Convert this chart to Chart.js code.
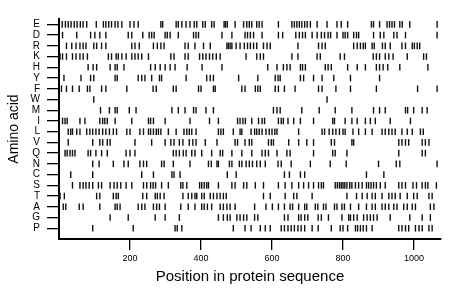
<!DOCTYPE html>
<html>
<head>
<meta charset="utf-8">
<script src="https://cdn.jsdelivr.net/npm/chart.js@4.4.1/dist/chart.umd.min.js"></script>
<style>
  body { margin: 0; background: #fff; }
  #wrap { width: 460px; height: 299px; position: relative; }
</style>
</head>
<body>
<div id="wrap"><canvas id="chart"></canvas></div>
<script>
// residue positions for each amino acid
const residues = ['E','D','R','K','H','Y','F','W','M','I','L','V','Q','N','C','S','T','A','G','P'];
const xTicks = [200, 400, 600, 800, 1000];

const posE = [9,18,26,34,43,51,60,68,78,105,125,132,140,148,158,166,177,200,211,223,287,292,330,336,346,358,369,381,388,405,412,430,437,465,469,474,496,520,529,536,543,557,564,572,618,656,663,670,677,684,692,699,708,727,755,783,795,813,880,886,903,924,931,938,945,960,967,988,1065];
const posD = [10,50,89,101,115,132,195,205,236,254,261,268,299,305,313,336,379,386,393,459,487,524,531,539,548,572,618,630,667,677,686,694,713,727,739,748,758,765,783,800,806,813,830,838,844,886,905,915,943,952,976,1065];
const posR = [21,36,48,59,68,76,98,106,120,132,205,214,226,266,277,287,296,355,364,383,407,426,473,477,482,487,499,510,522,531,539,548,557,576,586,595,673,731,741,750,830,840,849,857,863,882,888,911,919,933,966,976,995,1001,1009,1016];
const posK = [3,10,21,38,48,59,68,80,139,148,161,167,177,189,205,214,223,233,252,315,324,355,364,396,405,414,424,433,443,454,527,557,567,576,656,673,727,736,792,804,885,894,903,919,929,941,981,1027,1035];
const posH = [82,96,106,144,158,164,183,258,271,285,299,313,327,361,403,459,588,614,632,642,651,680,686,694,750,758,767,813,840,863,894,903,913,926,960,1039];
const posY = [14,62,89,98,158,164,223,233,242,261,283,289,358,416,426,435,506,560,609,617,623,680,689,717,741,774,821,903];
const posF = [7,21,38,57,80,87,120,132,191,265,274,322,330,393,400,435,440,515,524,553,560,567,609,618,635,665,731,741,780,821,894,1010,1065];
const posW = [98,755];
const posM = [117,142,158,164,198,217,318,336,355,379,386,414,435,604,614,623,684,733,778,825,886,903,919,976,982,999,1023,1037];
const posI = [10,17,23,59,73,115,123,129,136,158,205,252,258,266,299,369,424,449,503,510,518,525,543,562,572,579,618,626,632,645,661,680,717,771,776,806,825,840,863,877,891,933,990];
const posL = [26,33,38,50,59,78,87,95,104,113,123,132,142,153,162,191,200,228,238,252,258,266,274,280,287,308,330,352,360,367,374,386,449,456,463,491,510,515,541,551,557,564,572,583,592,600,608,614,675,741,748,761,771,780,790,800,806,828,844,863,882,910,919,929,938,947,966,981,995,1018,1026];
const posV = [26,95,115,123,136,144,214,261,299,315,324,339,349,367,377,386,412,445,496,503,524,536,543,590,598,604,647,675,698,717,767,776,825,830,957,966,976,985,1023,1032,1042];
const posQ = [1,17,23,31,38,45,82,89,104,120,136,189,200,214,322,330,339,350,358,374,383,402,430,454,461,487,515,543,572,581,590,614,642,651,717,771,778,811,957,1023,1032];
const posN = [95,113,153,183,195,228,238,247,289,296,322,369,421,429,445,449,480,487,508,515,527,536,545,557,567,581,617,626,654,708,764,809,900,950,960,1065];
const posC = [33,95,233,266,318,324,341,474,499,635,649,680,692,866,915];
const posS = [1,38,59,68,76,85,95,111,120,144,155,164,174,189,205,238,247,258,265,272,289,308,343,349,360,396,402,409,416,421,449,487,496,520,529,553,576,618,637,656,675,689,703,717,731,739,745,778,784,790,795,800,805,811,819,825,835,844,854,866,872,879,886,894,905,919,957,966,976,997,1007,1023,1032,1039,1063];
const posT = [3,15,106,115,153,161,167,236,247,271,277,285,296,349,364,374,383,388,402,409,426,435,445,454,463,471,576,595,637,661,670,713,811,838,854,868,882,891,910,929,938,947,961,981,999,1009,1042,1051];
const posA = [12,19,57,68,115,158,164,172,223,233,242,266,275,283,299,343,364,383,402,409,418,430,454,463,473,482,496,551,583,601,618,635,651,658,675,692,698,722,729,745,752,776,783,797,804,821,844,866,882,891,910,919,929,943,952,971,981,995,1004,1046,1056];
const posG = [144,195,271,299,339,449,463,474,482,501,510,520,529,551,560,635,645,675,682,692,701,730,739,759,797,816,821,830,840,858,868,877,886,896,933,988,1023,1046];
const posP = [95,209,327,333,346,491,524,541,567,581,595,626,635,645,654,663,673,682,692,713,730,767,792,800,813,835,841,849,857,866,882,957,966,976,985,1004,1014,1023,1042,1051];

const rows = [posE,posD,posR,posK,posH,posY,posF,posW,posM,posI,posL,posV,posQ,posN,posC,posS,posT,posA,posG,posP];

const datasets = rows.map((list, i) => ({
  label: residues[i],
  data: list.map(p => ({x: p, y: i})),
  pointStyle: 'line',
  rotation: 90,
  radius: 3.3,
  borderWidth: 1.4,
  borderColor: '#111',
  backgroundColor: '#111'
}));

const fontFamily = '"Liberation Sans", Arial, Helvetica, sans-serif';

new Chart(document.getElementById('chart'), {
  type: 'scatter',
  data: { datasets: datasets },
  options: {
    responsive: true,
    maintainAspectRatio: false,
    animation: false,
    events: [],
    layout: { padding: { top: 19, right: 19, left: 0, bottom: 0 } },
    plugins: { legend: { display: false }, tooltip: { enabled: false } },
    scales: {
      x: {
        type: 'linear',
        min: 0,
        max: 1076,
        afterBuildTicks: s => { s.ticks = xTicks.map(v => ({value: v})); },
        afterFit: s => { s.height = 60; },
        grid: { drawOnChartArea: false, drawTicks: true, tickLength: 11, color: '#000', lineWidth: 1.3 },
        border: { display: true, color: '#000', width: 2 },
        ticks: { color: '#000', font: { family: fontFamily, size: 9 }, padding: 3, maxRotation: 0,
                 callback: v => String(v) },
        title: { display: true, text: 'Position in protein sequence', color: '#000',
                 font: { family: fontFamily, size: 15 }, padding: { top: 0, bottom: 13 } }
      },
      y: {
        type: 'linear',
        min: -0.5,
        max: 20,
        reverse: true,
        afterBuildTicks: s => { s.ticks = residues.map((r, i) => ({value: i})); },
        afterFit: s => { s.width = 59; },
        grid: { drawOnChartArea: false, drawTicks: true, tickLength: 12, color: '#000', lineWidth: 1.3 },
        border: { display: true, color: '#000', width: 2 },
        ticks: { color: '#000', font: { family: fontFamily, size: 10 }, padding: 7,
                 autoSkip: false, callback: v => residues[v] },
        title: { display: true, text: 'Amino acid', color: '#000',
                 font: { family: fontFamily, size: 14 }, padding: { top: 6, bottom: 0 } }
      }
    }
  }
});
</script>
</body>
</html>
